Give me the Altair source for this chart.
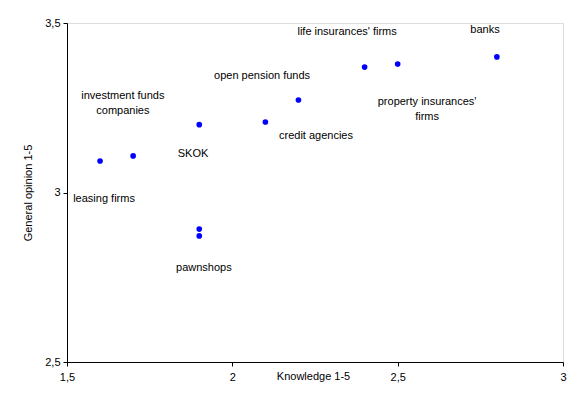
import altair as alt
import pandas as pd

# point data
knowledge = [1.6, 1.7, 1.9, 1.9, 1.9, 2.1, 2.2, 2.4, 2.5, 2.8]
opinion = [3.093, 3.108, 3.2, 2.892, 2.872, 3.208, 3.273, 3.37, 3.379, 3.40]

# labels (anchor in data coordinates)
label_text = ["investment funds", "companies", "leasing firms", "SKOK", "pawnshops",
              "credit agencies", "open pension funds", "life insurances' firms",
              "banks", "property insurances'", "firms"]
label_x = [1.669, 1.669, 1.612, 1.881, 1.914, 2.253, 2.090, 2.347, 2.764, 2.589, 2.589]
label_y = [3.285, 3.240, 2.981, 3.114, 2.777, 3.167, 3.344, 3.473, 3.479, 3.267, 3.223]

x_ticks = [1.5, 2, 2.5, 3]
y_ticks = [2.5, 3, 3.5]

pts = pd.DataFrame({"k": knowledge, "o": opinion})
lbl = pd.DataFrame({"t": label_text, "k": label_x, "o": label_y})

FONT = "Liberation Sans"
fmt = "replace(format(datum.value, '.1~f'), '.', ',')"

xs = alt.Scale(domain=[1.5, 3], nice=False, zero=False)
ys = alt.Scale(domain=[2.5, 3.5], nice=False, zero=False)

xaxis = alt.Axis(values=x_ticks, labelExpr=fmt, title="Knowledge 1-5", grid=False,
                 tickSize=4, labelPadding=5, titlePadding=-12, titleX=246,
                 titleFontWeight="normal", titleFontSize=11, labelFontSize=11,
                 labelFont=FONT, titleFont=FONT, domainColor="black", tickColor="black",
                 labelColor="black", titleColor="black", labelFlush=False)
yaxis = alt.Axis(values=y_ticks, labelExpr=fmt, title="General opinion 1-5", grid=False,
                 tickSize=4, labelPadding=3, titlePadding=11,
                 titleFontWeight="normal", titleFontSize=11, labelFontSize=11,
                 labelFont=FONT, titleFont=FONT, domainColor="black", tickColor="black",
                 labelColor="black", titleColor="black", labelFlush=False)

points = alt.Chart(pts).mark_circle(size=32, color="#0000ff", opacity=1).encode(
    x=alt.X("k:Q", scale=xs, axis=xaxis),
    y=alt.Y("o:Q", scale=ys, axis=yaxis),
)

labels = alt.Chart(lbl).mark_text(font=FONT, fontSize=11, color="black",
                                  align="center", baseline="middle").encode(
    x=alt.X("k:Q", scale=xs),
    y=alt.Y("o:Q", scale=ys),
    text="t:N",
)

chart = (points + labels).properties(
    width=496, height=339,
    autosize=alt.AutoSizeParams(type="none"),
    padding={"left": 59, "top": 15, "right": 10, "bottom": 30},
).configure_view(stroke=None).configure(background="white")

chart.save("out.html", embed_options={"renderer": "svg", "actions": False})
